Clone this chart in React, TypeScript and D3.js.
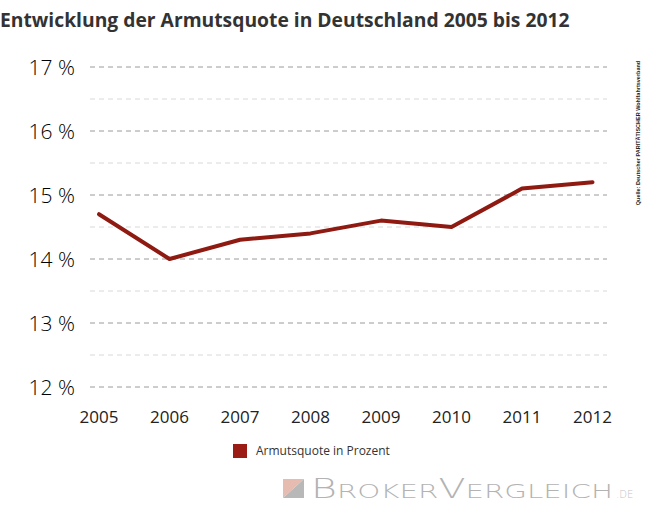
import React from 'react';
import * as d3 from 'd3';

const years = ['2005', '2006', '2007', '2008', '2009', '2010', '2011', '2012'];
const quote = [14.7, 14.0, 14.3, 14.4, 14.6, 14.5, 15.1, 15.2];
const majorTicks = [12, 13, 14, 15, 16, 17];
const minorTicks = [12.5, 13.5, 14.5, 15.5, 16.5];
const seriesName = 'Armutsquote in Prozent';
const title = 'Entwicklung der Armutsquote in Deutschland 2005 bis 2012';
const source = 'Quelle: Deutscher PARITÄTISCHER Wohlfahrtsverband';

const font = "'Open Sans', 'Noto Sans', sans-serif";

const App = () => {
  const width = 655;
  const height = 520;

  const x = d3.scalePoint<string>().domain(years).range([99, 592.5]);
  const y = d3.scaleLinear().domain([12, 17]).range([387, 67]);

  const line = d3.line<number>()
    .x((d, i) => x(years[i]) as number)
    .y(d => y(d));

  return (
    <svg width={width} height={height} style={{ position: 'absolute', left: 0, top: 0 }}>
      <rect width={width} height={height} fill="#fff" />
      <text x={0} y={27} fontFamily={font} fontSize={19.3} fontWeight={700} fill="#333">{title}</text>

      {minorTicks.map(t => (
        <line key={'m' + t} x1={90} x2={607} y1={y(t)} y2={y(t)}
          stroke="#d8d8d8" strokeWidth={1} strokeDasharray="5 4" />
      ))}
      {majorTicks.map(t => (
        <g key={t}>
          <line x1={90} x2={607} y1={y(t)} y2={y(t)}
            stroke="#9a9a9a" strokeWidth={1} strokeDasharray="5 4" />
          <text x={75} y={y(t) + 7.5} textAnchor="end" fontFamily={font} fontSize={21}
            fontWeight={300} fill="#000">{t} %</text>
        </g>
      ))}

      {years.map(yr => (
        <text key={yr} x={x(yr)} y={423} textAnchor="middle" fontFamily={font}
          fontSize={17} fill="#222">{yr}</text>
      ))}

      <path d={line(quote) || ''} fill="none" stroke="#8e1a12" strokeWidth={4}
        strokeLinejoin="round" strokeLinecap="round" />

      <rect x={233} y={444} width={14} height={14} fill="#9b1c14" />
      <text x={256} y={455} fontFamily={font} fontSize={12} fill="#333">{seriesName}</text>

      <text transform="translate(640,133) rotate(-90)" textAnchor="middle"
        fontFamily="'Liberation Sans', Arial, sans-serif" fontSize={5.5} fontWeight={700}
        fill="#222">{source}</text>

      <g>
        <polygon points="283,479 304,479 283,498" fill="#e6bcb1" />
        <polygon points="304,479 304,498 283,498" fill="#b8b8b8" />
        <text x={311} y={498} fontFamily="'DejaVu Sans', sans-serif" fontWeight={200}
          fill="#b3b3b3" textLength={302} lengthAdjust="spacingAndGlyphs">
          <tspan fontSize={27}>B</tspan>
          <tspan fontSize={20}>ROKER</tspan>
          <tspan fontSize={27}>V</tspan>
          <tspan fontSize={20}>ERGLEICH</tspan>
        </text>
        <text x={616} y={498} fontFamily="'DejaVu Sans', sans-serif" fontSize={10}
          fontWeight={200} fill="#c4c4c4">.DE</text>
      </g>
    </svg>
  );
};

export default App;
